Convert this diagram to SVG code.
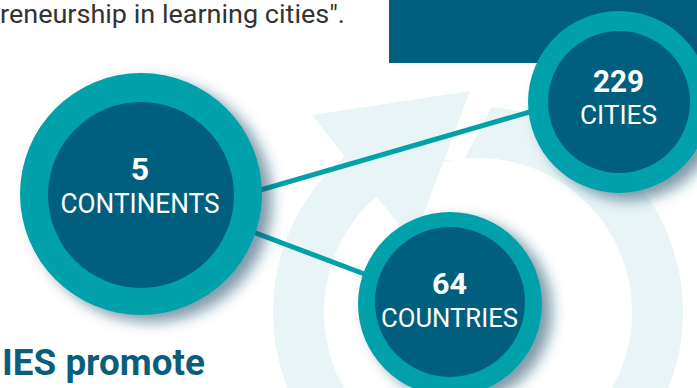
<svg xmlns="http://www.w3.org/2000/svg" width="697" height="388" viewBox="0 0 697 388">
<defs>
<filter id="sh" x="-30%" y="-30%" width="170%" height="170%">
<feDropShadow dx="10" dy="7" stdDeviation="7" flood-color="#0b4a63" flood-opacity="0.55"/>
</filter>
</defs>
<style>
.outer{fill:#00a1ab}
.inner{fill:#005f7e}
.bg{fill:#e8f4f6}
.conn{stroke:#00a1ab;stroke-width:5;fill:none}
.num{font-family:Roboto,"Liberation Sans",sans-serif;font-weight:bold;fill:#ffffff;text-anchor:middle}
.lab{font-family:Roboto,"Liberation Sans",sans-serif;fill:#ffffff;text-anchor:middle}
</style>
<rect width="697" height="388" fill="#ffffff"/>
<circle cx="478" cy="312" r="179.5" fill="none" stroke="#e8f4f6" stroke-width="51"/>
<polygon points="474,80 505,80 464,160 443,160" fill="#ffffff"/>
<polygon class="bg" points="312,115 470,91 413,242"/>
<rect x="389" y="0" width="308" height="63" fill="#005f7f"/>
<text x="0" y="23" font-family="Roboto,'Liberation Sans',sans-serif" font-size="25.5" fill="#333333" textLength="345" lengthAdjust="spacingAndGlyphs">reneurship in learning cities".</text>
<text x="2" y="375" font-family="Roboto,'Liberation Sans',sans-serif" font-size="37" font-weight="bold" fill="#0a5e7b" textLength="203" lengthAdjust="spacingAndGlyphs">IES promote</text>
<g id="connectors">
<line class="conn" x1="250" y1="193" x2="540" y2="109"/>
<line class="conn" x1="245" y1="229" x2="375" y2="278"/>
</g>
<g id="continents">
<circle class="outer" cx="141" cy="194" r="121" filter="url(#sh)"/>
<circle class="inner" cx="141" cy="195" r="93"/>
<text class="num" x="140" y="180" font-size="32">5</text>
<text class="lab" x="140" y="213" font-size="27" textLength="159" lengthAdjust="spacingAndGlyphs">CONTINENTS</text>
</g>
<g id="cities">
<circle class="outer" cx="619" cy="102" r="91" filter="url(#sh)"/>
<circle class="inner" cx="619" cy="102" r="71"/>
<text class="num" x="618.5" y="92" font-size="31" textLength="51" lengthAdjust="spacingAndGlyphs">229</text>
<text class="lab" x="618.5" y="124" font-size="26" textLength="77" lengthAdjust="spacingAndGlyphs">CITIES</text>
</g>
<g id="countries">
<circle class="outer" cx="450" cy="304" r="92" filter="url(#sh)"/>
<circle class="inner" cx="450" cy="302" r="75"/>
<text class="num" x="449.5" y="294" font-size="30" textLength="35" lengthAdjust="spacingAndGlyphs">64</text>
<text class="lab" x="449.5" y="327" font-size="26" textLength="137" lengthAdjust="spacingAndGlyphs">COUNTRIES</text>
</g>
</svg>
